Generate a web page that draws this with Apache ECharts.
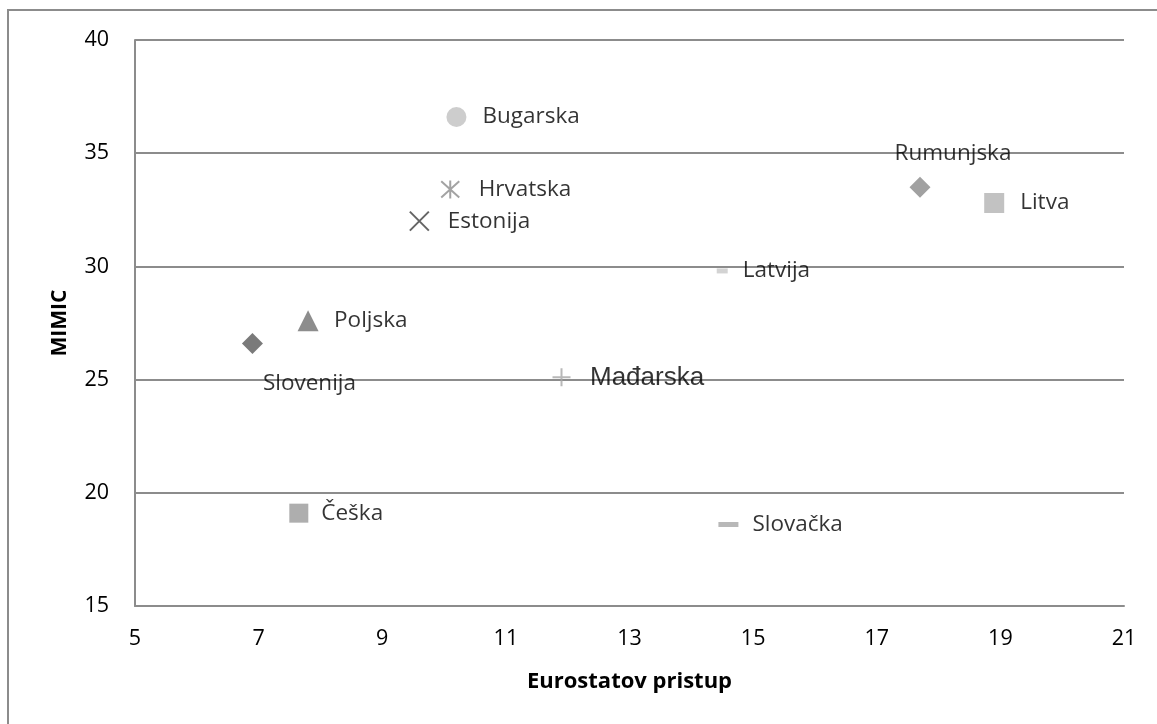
<!DOCTYPE html>
<html>
<head>
<meta charset="utf-8">
<script src="https://cdn.jsdelivr.net/npm/echarts@6/dist/echarts.min.js"></script>
<style>
  html, body { margin: 0; padding: 0; background: #fff; }
  #chart { width: 1157px; height: 724px; }
</style>
</head>
<body>
<div id="chart"></div>
<script>
// data
const countries = ['Bugarska', 'Hrvatska', 'Estonija', 'Rumunjska', 'Litva', 'Latvija',
  'Poljska', 'Slovenija', 'Mađarska', 'Češka', 'Slovačka'];
const eurostat = [10.2, 10.1, 9.6, 17.7, 18.9, 14.5, 7.8, 6.9, 11.9, 7.65, 14.6];
const mimic = [36.6, 33.4, 32.0, 33.5, 32.8, 29.8, 27.6, 26.6, 25.1, 19.1, 18.6];

const xTicks = { min: 5, max: 21, interval: 2 };
const yTicks = { min: 15, max: 40, interval: 5 };

const GRID = '#8c8c8c';
const FONT = '"Open Sans", sans-serif';

// marker look for each country (same order as above)
const markers = [
  { symbol: 'circle', size: 20, color: '#c0c0c0' },
  { symbol: 'path://M5,0 L5,10 M0.5,0.5 L9.5,9.5 M9.5,0.5 L0.5,9.5', size: 18, stroke: '#8c8c8c' },
  { symbol: 'path://M0,0 L10,10 M10,0 L0,10', size: 19, stroke: '#3f3f3f' },
  { symbol: 'diamond', size: 21, color: '#8a8a8a', label: { position: 'inside', offset: [33, -34] } },
  { symbol: 'rect', size: 20, color: '#b3b3b3' },
  { symbol: 'rect', size: [11, 5], color: '#c8c8c8', dist: 15 },
  { symbol: 'triangle', size: 21, color: '#707070' },
  { symbol: 'diamond', size: 21, color: '#595959', label: { position: 'inside', offset: [57, 40] } },
  { symbol: 'path://M5,0 L5,10 M0,5 L10,5', size: 18, stroke: '#a6a6a6', font: '"Liberation Sans", Arial, sans-serif', fontSize: 26 },
  { symbol: 'rect', size: 19, color: '#9a9a9a', dist: 13 },
  { symbol: 'rect', size: [20, 5], color: '#a6a6a6', dist: 14 }
];

const series = countries.map(function (name, i) {
  const m = markers[i];
  const half = Array.isArray(m.size) ? m.size[0] / 2 : m.size / 2;
  const label = {
    show: true,
    formatter: name,
    color: '#000',
    fontFamily: m.font || FONT,
    fontSize: m.fontSize || 22.5,
    position: 'right',
    distance: m.dist !== undefined ? m.dist : 26 - half
  };
  if (m.label) {
    label.position = m.label.position;
    label.offset = m.label.offset;
  }
  return {
    name: name,
    type: 'scatter',
    symbol: m.symbol,
    symbolSize: m.size,
    itemStyle: m.stroke
      ? { color: 'none', borderColor: m.stroke, borderWidth: 2 }
      : { color: m.color },
    label: label,
    emphasis: { disabled: true },
    data: [[eurostat[i], mimic[i]]]
  };
});

const chart = echarts.init(document.getElementById('chart'));

chart.setOption({
  animation: false,
  backgroundColor: '#fff',
  graphic: [{
    type: 'rect',
    shape: { x: 8, y: 10, width: 1300, height: 900 },
    style: { fill: 'none', stroke: GRID, lineWidth: 2 },
    silent: true
  }],
  grid: { left: 135, top: 40, right: 33, bottom: 118 },
  xAxis: {
    type: 'value',
    min: xTicks.min,
    max: xTicks.max,
    interval: xTicks.interval,
    name: 'Eurostatov pristup',
    nameLocation: 'middle',
    nameGap: 65,
    nameTextStyle: { fontFamily: FONT, fontSize: 22, fontWeight: 'bold', color: '#000' },
    axisLine: { show: true, lineStyle: { color: GRID, width: 2 } },
    axisTick: { show: false },
    axisLabel: { fontFamily: FONT, fontSize: 21.5, color: '#000', margin: 22 },
    splitLine: { show: false }
  },
  yAxis: {
    type: 'value',
    min: yTicks.min,
    max: yTicks.max,
    interval: yTicks.interval,
    name: 'MIMIC',
    nameLocation: 'middle',
    nameGap: 64,
    nameRotate: 90,
    nameTextStyle: { fontFamily: FONT, fontSize: 21, fontWeight: 'bold', color: '#000' },
    axisLine: { show: true, lineStyle: { color: GRID, width: 2 } },
    axisTick: { show: false },
    axisLabel: { fontFamily: FONT, fontSize: 21.5, color: '#000', margin: 26 },
    splitLine: { show: true, lineStyle: { color: GRID, width: 2 } }
  },
  series: series
});
</script>
</body>
</html>
